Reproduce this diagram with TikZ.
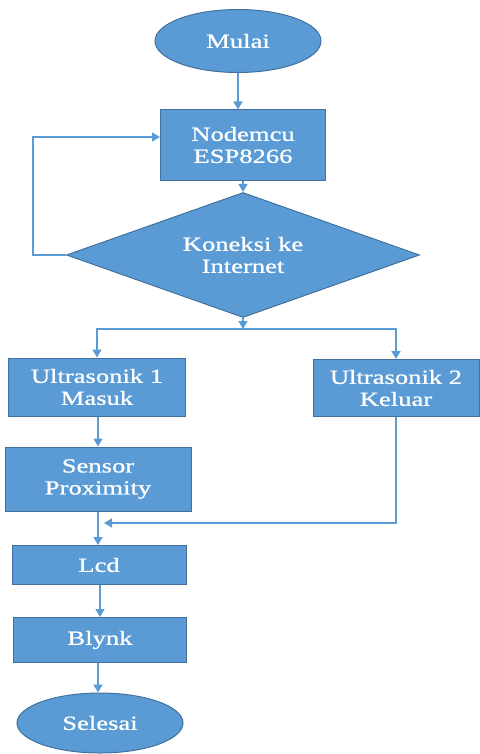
\documentclass[tikz,border=0pt]{standalone}
\usepackage{fontspec}
\usetikzlibrary{arrows.meta}
\usetikzlibrary{shapes.geometric}
\newfontfamily\blokfont[FakeStretch=1.33,FakeBold=0.8]{Liberation Serif}
\definecolor{bluefill}{HTML}{5B9BD5}
\definecolor{blueline}{HTML}{41719C}
\tikzset{
	blok/.style={draw=blueline,line width=1pt,fill=bluefill,text=white,align=center,inner sep=0pt,font=\blokfont\fontsize{20}{22}\selectfont},
	kotak/.style={blok,rectangle},
	oval/.style={blok,ellipse},
	alir/.style={draw=bluefill,line width=1.5pt,-{Triangle[width=9pt,length=8pt]}}
}
\begin{document}
\begin{tikzpicture}[x=1pt,y=-1pt]
				\useasboundingbox (0,0) rectangle (479,754);
				% Blocs
				\node[oval,minimum width=166pt,minimum height=63pt] (mulai) at (238,41) {Mulai};
				\node[kotak,minimum width=165pt,minimum height=70pt] (nodemcu) at (243,145) {Nodemcu\\ESP8266};
				\node[blok,diamond,aspect=2.8,minimum width=353pt,minimum height=125pt] (koneksi) at (243,255) {Koneksi ke\\Internet};
				\node[kotak,minimum width=177pt,minimum height=58pt] (ultra1) at (97,387) {Ultrasonik 1\\Masuk};
				\node[kotak,minimum width=166pt,minimum height=57pt] (ultra2) at (396,388) {Ultrasonik 2\\Keluar};
				\node[kotak,minimum width=186pt,minimum height=64pt] (sensor) at (98,479) {Sensor\\Proximity};
				\node[kotak,minimum width=174pt,minimum height=39pt] (lcd) at (99,565) {Lcd};
				\node[kotak,minimum width=173pt,minimum height=45pt] (blynk) at (100,640) {Blynk};
				\node[oval,minimum width=166pt,minimum height=60pt] (selesai) at (100,723) {Selesai};
				\coordinate (loopin) at (nodemcu.west |- 0,137);
				\coordinate (split) at (243,329);
				\coordinate (merge) at (104,523);
				% Flèches
				\draw [alir] (mulai) -- (mulai |- nodemcu.north);
				\draw [alir] (nodemcu) -- (koneksi);
				\draw [alir] (koneksi.west) -- (33,255) |- (loopin);
				\draw [alir] (koneksi.south) -- (split);
				\draw [alir] (split) -| (ultra1.north);
				\draw [alir] (split) -| (ultra2.north);
				\draw [alir] (sensor.north |- ultra1.south) -- (sensor.north);
				\draw [alir] (sensor) -- (sensor |- lcd.north);
				\draw [alir] (ultra2.south) |- (merge);
				\draw [alir] (lcd.south -| blynk) -- (blynk);
				\draw [alir] (blynk.south -| 98,0) -- (selesai.north -| 98,0);
\end{tikzpicture}
\end{document}
